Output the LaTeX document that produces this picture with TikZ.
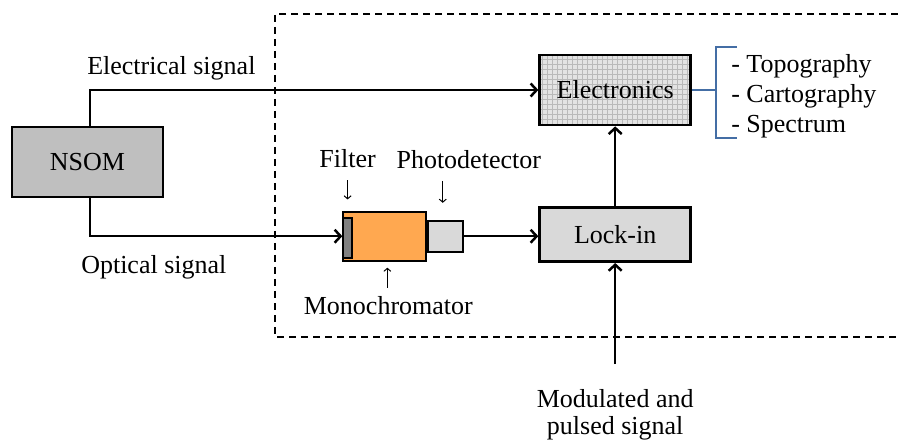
\documentclass[tikz,border=0pt]{standalone}
\usepackage{fontspec}
\setmainfont{Liberation Serif}
\usetikzlibrary{positioning,arrows.meta}
\definecolor{monofill}{RGB}{255,168,80}
\definecolor{bracketblue}{RGB}{68,110,165}
\tikzset{
    unit/.style={rectangle, draw=black, line width=2.7pt, minimum width=151pt, minimum height=70pt, inner sep=0pt},
    nsombox/.style={unit, fill=gray!50},
    elecbox/.style={unit, fill=gray!22, path picture={\draw[gray!55, line width=0.4pt, step=5pt] (path picture bounding box.south west) grid (path picture bounding box.north east);}},
    lockbox/.style={unit, minimum height=54pt, fill=gray!30},
    monobox/.style={rectangle, draw=black, line width=2pt, fill=monofill, minimum width=83pt, minimum height=49pt, inner sep=0pt},
    filterbox/.style={rectangle, draw=black, line width=1.5pt, fill=gray, minimum width=9pt, minimum height=40pt, inner sep=0pt},
    detbox/.style={rectangle, draw=black, line width=1.8pt, fill=gray!30, minimum width=35pt, minimum height=31pt, inner sep=0pt},
    lbl/.style={inner sep=3pt},
    arr/.style={line width=2.5pt, -{Straight Barb[length=6pt,width=13pt]}},
    thinarr/.style={line width=1pt, -{Straight Barb[length=3pt,width=7pt]}},
    brace/.style={draw=bracketblue, line width=2.5pt},
    frame/.style={line width=2pt, dash pattern=on 7pt off 5pt}
    }
\begin{document}
\begin{tikzpicture}[x=1pt, y=1pt, font=\fontsize{26}{27}\selectfont]
    \useasboundingbox (0,0) rectangle (898,-441);
    \draw[frame] (898,-14) -| (275,-337) -- (898,-337);

    \node[nsombox] (nsom) at (87.5,-162) {NSOM};
    \node[elecbox, right=374pt of nsom, yshift=72pt] (elec) {Electronics};
    \node[lockbox, below=80pt of elec] (lockin) {Lock-in};
    \node[monobox, left=111pt of lockin, yshift=-1.5pt] (mono) {};
    \node[filterbox, right=0pt of mono.west, yshift=-2pt] (filter) {};
    \node[detbox, right=0pt of mono] (det) {};

    \node[lbl, above=46pt of filter] (filterlbl) {Filter};
    \node[lbl, above=48pt of det, xshift=23pt] (detlbl) {Photodetector};
    \node[lbl, below=32pt of mono, xshift=3.5pt] (monolbl) {Monochromator};
    \node[lbl, below=123pt of lockin, align=center] (modlbl) {Modulated and\\pulsed signal};
    \node[inner sep=0pt, right=39pt of elec, yshift=-6pt, align=left, font=\fontsize{26}{30}\selectfont] (outputs) {- Topography\\- Cartography\\- Spectrum};

    \draw[arr] ([xshift=2.5pt]nsom.north) |- node[lbl, above right, xshift=-7pt, yshift=6pt] (eleclbl) {Electrical signal} (elec);
    \draw[arr] ([xshift=2.5pt]nsom.south) |- node[lbl, below right, xshift=-13pt, yshift=-15pt] (optlbl) {Optical signal} (mono);
    \draw[arr] (det.east) -- (det.east -| lockin.west);
    \draw[arr] (lockin) -- (elec);
    \draw[arr, shorten <=22pt] (modlbl) -- (lockin);

    \draw[thinarr] ([yshift=-9pt]filterlbl.south) -- ([yshift=18pt]filter.north);
    \draw[thinarr] ([xshift=-26pt,yshift=-9pt]detlbl.south) -- ([xshift=-3pt,yshift=17pt]det.north);
    \draw[thinarr] ([xshift=-1pt,yshift=6pt]monolbl.north) -- ([xshift=2.5pt,yshift=-6pt]mono.south);

    % output bracket
    \draw[brace] (elec.east) -- ++(24pt,0);
    \draw[brace] ([xshift=45pt,yshift=43pt]elec.east) -| ([xshift=24pt]elec.east) |- ([xshift=45pt,yshift=-48pt]elec.east);
\end{tikzpicture}
\end{document}
